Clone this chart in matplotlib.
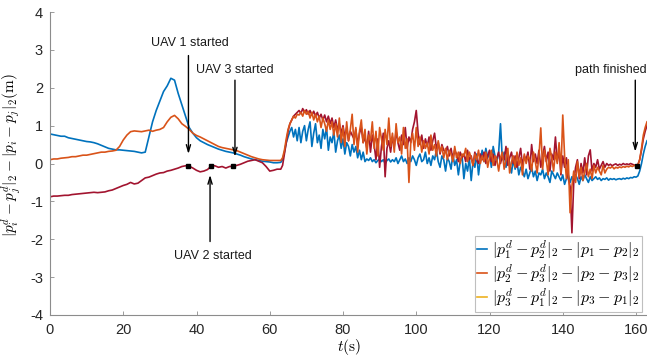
import numpy as np
import matplotlib
matplotlib.use("Agg")
import matplotlib.pyplot as plt
from matplotlib.lines import Line2D

plt.rcParams['font.family'] = ['Liberation Sans', 'DejaVu Sans']
plt.rcParams['mathtext.fontset'] = 'cm'
plt.rcParams['axes.unicode_minus'] = False

# time samples: 1 s before the noisy part, 0.5 s after
t = np.concatenate([np.arange(0, 63, 1.0), np.arange(63, 163.5, 0.5)])

# |p1^d - p2^d| - |p1 - p2|
err12 = [
    0.78, 0.76, 0.74, 0.72, 0.72, 0.68, 0.66, 0.64, 0.62, 0.60,
    0.58, 0.57, 0.55, 0.52, 0.48, 0.44, 0.40, 0.38, 0.36, 0.36,
    0.35, 0.34, 0.33, 0.32, 0.30, 0.28, 0.30, 0.70, 1.10, 1.40,
    1.65, 1.90, 2.05, 2.25, 2.20, 1.85, 1.55, 1.25, 0.95, 0.80,
    0.68, 0.60, 0.55, 0.50, 0.46, 0.42, 0.38, 0.35, 0.32, 0.30,
    0.28, 0.25, 0.22, 0.18, 0.15, 0.12, 0.10, 0.08, 0.06, 0.05,
    0.04, 0.02, 0.02,
    0.03, 0.10, 0.30, 0.55, 0.70, 0.85, 0.95, 0.70, 0.90, 0.60,
    0.95, 0.55, 0.85, 1.00, 0.60, 0.90, 1.10, 0.45, 0.80, 1.05,
    0.55, 0.75, 0.40, 0.90, 0.65, 0.95, 0.35, 0.70, 0.55, 0.85,
    0.30, 0.60, 0.75, 0.40, 0.65, 0.25, 0.55, 0.45, 0.20, 0.50,
    0.30, 0.45, 0.15, 0.35, 0.10, 0.30, 0.05, 0.12, 0.08, 0.15,
    0.05, 0.10, 0.02, 0.08, 0.12, 0.05, 0.10, 0.00, 0.08, 0.12,
    0.04, 0.10, 0.05, 0.15, 0.00, 0.10, 0.20, 0.05, 0.12, 0.00,
    0.15, 0.05, 0.20, 0.10, -0.05, 0.15, 0.25, 0.05, 0.10, 0.30,
    0.00, 0.15, -0.05, 0.20, 0.10, 0.35, 0.05, -0.10, 0.20, 0.10,
    -0.20, 0.15, 0.05, -0.15, 0.25, -0.05, 0.10, -0.30, 0.05, 0.20,
    -0.40, 0.00, -0.20, 0.15, -0.45, 0.05, -0.10, 0.25, -0.30, 0.10,
    0.35, 0.05, 0.40, 0.15, 0.30, -0.10, 0.45, 0.20, 0.05, 0.30,
    1.05, 0.10, 0.30, -0.10, 0.20, 0.00, -0.25, 0.10, -0.15, 0.05,
    -0.30, -0.10, -0.20, -0.35, -0.15, -0.40, -0.25, -0.10, -0.35, -0.20,
    -0.45, -0.25, -0.30, -0.15, -0.40, -0.25, -0.35, -0.50, -0.20, -0.30,
    -0.40, -0.25, -0.35, -0.45, -0.30, -0.55, -0.40, -0.30, -0.50, -0.35,
    -0.45, -0.30, -0.40, -0.55, -0.35, -0.45, -0.30, -0.40, -0.50, -0.35,
    -0.45, -0.40, -0.35, -0.42, -0.38, -0.45, -0.40, -0.42, -0.38, -0.44,
    -0.40, -0.42, -0.40, -0.43, -0.41, -0.40, -0.42, -0.39, -0.41, -0.38,
    -0.40, -0.37, -0.38, -0.35, -0.36, -0.33, -0.20, 0.00, 0.25, 0.45,
    0.60,
]

# |p2^d - p3^d| - |p2 - p3|
err23 = [
    0.10, 0.12, 0.12, 0.14, 0.15, 0.16, 0.18, 0.18, 0.20, 0.22,
    0.22, 0.24, 0.26, 0.28, 0.30, 0.30, 0.32, 0.33, 0.35, 0.45,
    0.62, 0.75, 0.84, 0.86, 0.85, 0.84, 0.86, 0.88, 0.85, 0.88,
    0.90, 0.95, 1.10, 1.22, 1.27, 1.18, 1.05, 0.98, 0.90, 0.80,
    0.74, 0.70, 0.65, 0.60, 0.55, 0.50, 0.45, 0.42, 0.40, 0.38,
    0.36, 0.34, 0.30, 0.26, 0.22, 0.18, 0.15, 0.12, 0.10, 0.09,
    0.08, 0.08, 0.08,
    0.08, 0.15, 0.35, 0.65, 0.90, 1.05, 1.15, 1.25, 1.20, 1.30,
    1.28, 1.35, 1.25, 1.40, 1.30, 1.38, 1.20, 1.35, 1.15, 1.30,
    1.10, 1.25, 0.95, 1.20, 1.05, 0.85, 1.15, 0.90, 1.10, 0.75,
    1.05, 0.70, 1.20, 0.55, 0.95, 0.45, 1.10, 0.60, 0.90, 1.30,
    0.50, 0.95, 0.30, 0.85, 1.15, 0.55, 0.90, 0.25, 0.75, 0.60,
    1.10, 0.40, 0.85, 0.20, 0.95, 0.65, 0.35, 0.90, 0.50, 1.20,
    0.45, 0.80, 0.30, 1.05, 0.55, 0.70, 0.25, 0.95, 0.40, 0.65,
    -0.50, 0.55, 0.80, 0.35, 0.95, 0.45, 0.70, 0.30, 0.60, 0.40,
    0.55, 0.25, 0.75, 0.35, 0.50, 0.20, 0.60, 0.30, 0.45, 0.15,
    0.40, 0.10, 0.35, 0.25, 0.05, 0.45, 0.15, 0.30, 0.00, 0.25,
    0.20, 0.40, 0.05, 0.30, 0.15, -0.05, 0.25, 0.10, 0.35, 0.00,
    0.20, 0.05, 0.30, -0.10, 0.15, 0.35, -0.05, 0.20, 0.10, -0.20,
    0.15, 0.30, -0.15, 0.10, 0.40, -0.25, 0.05, 0.20, -0.10, 0.30,
    -0.05, 0.15, -0.30, 0.25, 0.00, 0.20, 0.10, -0.20, 0.30, 0.05,
    -0.25, 0.20, 0.94, -0.15, 0.35, 0.10, -0.30, 0.40, 0.15, -0.20,
    0.30, 0.00, 0.55, -0.25, 1.28, 0.20, -0.40, 0.10, -1.30, -0.60,
    -0.20, -0.50, 0.05, -0.35, -0.10, -0.45, -0.20, 0.00, -0.35, -0.15,
    -0.40, -0.05, -0.25, -0.10, -0.20, -0.30, -0.05, -0.25, -0.15, -0.10,
    -0.12, -0.08, -0.14, -0.10, -0.12, -0.09, -0.11, -0.08, -0.10, -0.07,
    -0.09, -0.06, -0.08, -0.05, -0.07, -0.05, 0.10, 0.40, 0.75, 0.95,
    1.10,
]

# |p3^d - p1^d| - |p3 - p1|
err31 = [
    -0.88, -0.86, -0.86, -0.85, -0.84, -0.84, -0.82, -0.81, -0.80, -0.79,
    -0.78, -0.77, -0.76, -0.77, -0.76, -0.75, -0.72, -0.70, -0.66, -0.62,
    -0.58, -0.55, -0.50, -0.54, -0.52, -0.45, -0.38, -0.36, -0.32, -0.28,
    -0.25, -0.24, -0.20, -0.18, -0.15, -0.12, -0.08, -0.06, -0.07, -0.12,
    -0.18, -0.22, -0.20, -0.16, -0.07, -0.06, -0.10, -0.08, -0.12, -0.08,
    -0.07, -0.05, -0.02, 0.02, 0.06, 0.08, 0.10, 0.06, 0.02, -0.08,
    -0.20, -0.18, -0.15,
    -0.15, -0.05, 0.25, 0.55, 0.85, 1.05, 1.15, 1.25, 1.30, 1.35,
    1.40, 1.32, 1.45, 1.35, 1.42, 1.30, 1.40, 1.28, 1.38, 1.25,
    1.35, 1.20, 1.30, 1.15, 1.28, 1.10, 1.25, 1.05, 1.20, 0.95,
    1.15, 0.90, 1.05, 0.80, 1.00, 0.70, 0.95, 0.60, 0.85, 0.75,
    0.65, 0.90, 0.50, 0.80, 0.95, 0.55, 0.70, 0.40, 0.85, 0.30,
    0.75, 0.50, 0.10, 0.65, -0.10, 0.45, 0.80, -0.35, 0.40, 0.60,
    0.30, 0.70, 0.45, 0.85, 0.55, 0.35, 0.75, 0.50, 0.95, 0.40,
    0.70, 0.55, 0.90, 1.10, 1.40, 0.80, 0.50, 0.75, 0.40, 0.65,
    0.45, 0.70, 0.35, 0.60, 0.80, 0.40, 0.55, 0.25, 0.50, 0.35,
    0.30, 0.45, 0.20, 0.40, 0.10, 0.35, 0.25, 0.05, 0.30, 0.15,
    0.25, 0.05, 0.35, 0.10, 0.20, -0.05, 0.30, 0.10, 0.00, 0.25,
    0.10, 0.30, 0.00, 0.20, 0.35, 0.05, 0.25, -0.05, 0.15, 0.30,
    0.00, 0.20, 0.10, 0.45, -0.05, 0.15, 0.30, 0.00, 0.20, -0.10,
    0.15, 0.40, -0.05, 0.20, 0.10, 0.30, -0.15, 0.50, 0.05, 0.25,
    0.00, 0.35, -0.10, 0.20, 0.45, 0.05, 0.30, -0.20, 0.25, 0.10,
    0.70, 0.05, 0.35, -0.30, 0.20, -0.10, 0.15, -0.40, -0.60, -1.83,
    -0.50, -0.10, 0.10, -0.40, 0.00, -0.25, 0.15, -0.30, 0.20, 0.36,
    -0.20, 0.00, -0.10, 0.10, -0.15, -0.05, 0.05, -0.10, 0.00, -0.05,
    -0.02, -0.06, -0.03, -0.01, -0.05, -0.02, -0.04, 0.00, -0.03, -0.01,
    -0.03, 0.00, -0.02, -0.04, -0.05, -0.03, 0.10, 0.35, 0.65, 0.85,
    1.00,
]

# event markers and annotations
event_t = [37.7, 44.0, 50.0, 160.3]
event_y = [-0.07, -0.07, -0.07, -0.07]
notes = ["UAV 1 started", "UAV 2 started", "UAV 3 started", "path finished"]
note_xy = [(38.3, 3.17), (44.5, -2.44), (50.5, 2.47), (153.0, 2.47)]
arrow_from = [(37.8, 2.85), (43.7, -2.06), (50.5, 2.2), (159.8, 2.2)]
arrow_to = [(37.8, 0.25), (43.7, -0.30), (50.5, 0.18), (159.8, 0.31)]

legend_labels = [
    r'$|p_1^d-p_2^d|_2-|p_1-p_2|_2$',
    r'$|p_2^d-p_3^d|_2-|p_2-p_3|_2$',
    r'$|p_3^d-p_1^d|_2-|p_3-p_1|_2$',
]

blue, orange, yellow, dred = '#0072BD', '#D95319', '#EDB120', '#A2142F'
grey = '#8c8c8c'

fig = plt.figure(figsize=(6.47, 3.63), dpi=100)
ax = fig.add_axes([50 / 647, 1 - 315 / 363, 1 - 50 / 647, (315 - 12) / 363])

ax.plot(t, err12, color=blue, lw=1.2)
ax.plot(t, err31, color=dred, lw=1.2)
ax.plot(t, err23, color=orange, lw=1.2)
ax.plot(event_t, event_y, 's', color='black', ms=3.5, zorder=5)

for txt, pos, a, b in zip(notes, note_xy, arrow_from, arrow_to):
    ax.annotate('', xy=b, xytext=a,
                arrowprops=dict(arrowstyle='->,head_length=0.5,head_width=0.15',
                                color='black', lw=1.0, shrinkA=0, shrinkB=0))
    ax.text(pos[0], pos[1], txt, ha='center', va='center', fontsize=9, color='#1a1a1a')

ax.set_xlim(0, 163)
ax.set_ylim(-4, 4)
ax.set_xticks(range(0, 161, 20))
ax.set_yticks(range(-4, 5))
ax.tick_params(direction='in', length=3, width=0.6, color=grey,
               labelsize=10.5, labelcolor='#262626', pad=5)
ax.tick_params(axis='x', pad=6)
for s in ['top', 'right']:
    ax.spines[s].set_visible(False)
for s in ['left', 'bottom']:
    ax.spines[s].set_color(grey)
    ax.spines[s].set_linewidth(0.8)

ax.set_xlabel(r'$t(\mathrm{s})$', fontsize=11, labelpad=0)
ax.set_ylabel(r'$|p_i^d-p_j^d|_2-|p_i-p_j|_2(\mathrm{m})$', fontsize=11)
ax.yaxis.set_label_coords(-0.046, 0.528)

handles = [Line2D([], [], color=c, lw=1.2) for c in (blue, orange, yellow)]
leg = ax.legend(handles, legend_labels, loc='lower right', bbox_to_anchor=(0.997, 0.0),
                fontsize=11.5, handlelength=0.6, handletextpad=0.3, labelspacing=0.12,
                borderpad=0.15, borderaxespad=0.2, fancybox=False, framealpha=1,
                edgecolor='#bfbfbf')
leg.get_frame().set_linewidth(0.8)

fig.savefig('out.png', dpi=100)
